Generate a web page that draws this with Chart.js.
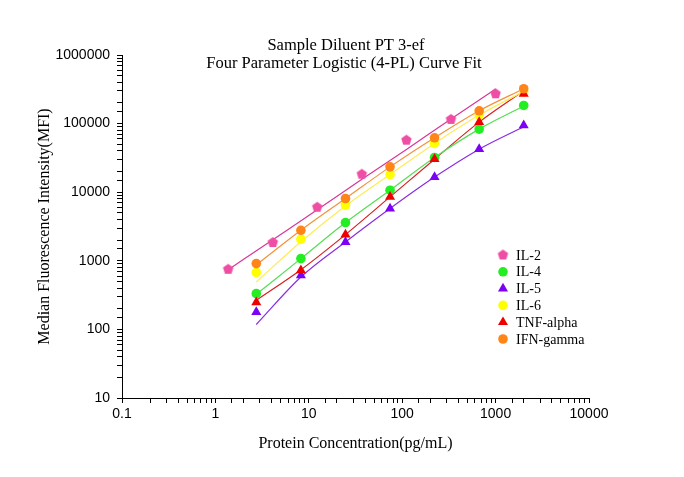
<!DOCTYPE html>
<html lang="en">
<head>
<meta charset="UTF-8">
<title>Sample Diluent PT 3-ef</title>
<script src="https://cdn.jsdelivr.net/npm/chart.js@4"></script>
<style>
  html, body { margin: 0; padding: 0; background: #fff; }
  #wrap { width: 684px; height: 477px; position: relative; }
</style>
</head>
<body>
<div id="wrap"><canvas id="chart"></canvas></div>
<script>
// standard concentrations (pg/mL), 3-fold dilutions
var concIL2 = [1.37, 4.12, 12.3, 37.0, 111, 333, 1000];
var concStd = [2.74, 8.23, 24.7, 74.1, 222, 667, 2000];

// measured MFI (markers)
var il2 = [752, 1845, 6040, 18300, 57400, 115000, 272000];
var il4 = [332, 1076, 3610, 10700, 32100, 83100, 184000];
var il5 = [179, 614, 1880, 5780, 16600, 42400, 94100];
var il6 = [679, 2060, 6460, 18100, 51400, 133000, 290000];
var tnf = [248, 727, 2410, 8540, 30300, 105000, 272000];
var ifn = [910, 2786, 8090, 23400, 62100, 153800, 322000];

// 4-PL fitted curves at the same concentrations
var il2Fit = [739, 2030, 5540, 15400, 42000, 117000, 319000];
var il4Fit = [325, 1076, 3610, 10700, 32100, 83100, 180000];
var il5Fit = [118, 580, 1880, 5780, 16600, 42400, 90000];
var il6Fit = [491, 1900, 6300, 18100, 51400, 133000, 295000];
var tnfFit = [265, 740, 2410, 8540, 30300, 105000, 300000];
var ifnFit = [870, 2786, 8090, 23400, 62100, 153800, 322000];

var xTicks = [0.1, 1, 10, 100, 1000, 10000];
var yTicks = [10, 100, 1000, 10000, 100000, 1000000];

var names = ['IL-2', 'IL-4', 'IL-5', 'IL-6', 'TNF-alpha', 'IFN-gamma'];
var markColors = ['#EE4FA5', '#22EE22', '#7B00F5', '#FFFF00', '#EE0000', '#FF8519'];
var lineColors = ['#D6369A', '#55DD55', '#8A2BE2', '#FFEB55', '#D81E1E', '#F5903A'];

function makePentagon(color, r) {
  var c = document.createElement('canvas');
  var s = Math.ceil(r * 2) + 2;
  c.width = s; c.height = s;
  var g = c.getContext('2d');
  g.fillStyle = color;
  g.beginPath();
  for (var i = 0; i < 5; i++) {
    var a = -Math.PI / 2 + i * 2 * Math.PI / 5;
    var px = s / 2 + r * Math.cos(a), py = s / 2 + r * Math.sin(a);
    if (i) g.lineTo(px, py); else g.moveTo(px, py);
  }
  g.closePath();
  g.fill();
  return c;
}

var pentagon = makePentagon(markColors[0], 5.5);
var styles = [pentagon, 'circle', 'triangle', 'circle', 'triangle', 'circle'];
var radii = [5.5, 4.8, 5.8, 4.8, 5.8, 4.8];

var pts = [il2, il4, il5, il6, tnf, ifn];
var fits = [il2Fit, il4Fit, il5Fit, il6Fit, tnfFit, ifnFit];
var concs = [concIL2, concStd, concStd, concStd, concStd, concStd];
var markOrder = [5, 4, 3, 2, 1, 0];

function xy(xs, ys) {
  return xs.map(function (x, i) { return { x: x, y: ys[i] }; });
}

var datasets = [];
for (var i = 0; i < names.length; i++) {
  datasets.push({
    label: names[i],
    data: xy(concs[i], pts[i]),
    showLine: false,
    pointStyle: styles[i],
    pointRadius: radii[i],
    pointHoverRadius: radii[i],
    pointBackgroundColor: markColors[i],
    pointBorderWidth: 0,
    order: markOrder[i]
  });
}
for (var j = 0; j < names.length; j++) {
  datasets.push({
    label: names[j] + ' fit',
    data: xy(concs[j], fits[j]),
    showLine: true,
    pointRadius: 0,
    borderColor: lineColors[j],
    borderWidth: 1.2,
    cubicInterpolationMode: 'monotone',
    order: 10 + j
  });
}

function isDecade(v, list) {
  return list.some(function (t) { return Math.abs(t - v) / t < 1e-6; });
}

// legend marker, same shapes as the dataset points
function legendMark(ctx, k, x, y) {
  var st = styles[k], r = radii[k];
  if (typeof st !== 'string') {
    ctx.drawImage(st, x - st.width / 2, y - st.height / 2);
    return;
  }
  ctx.fillStyle = markColors[k];
  ctx.beginPath();
  if (st === 'circle') {
    ctx.arc(x, y, r, 0, Math.PI * 2);
  } else {
    for (var n = 0; n < 3; n++) {
      var a = n * 2 * Math.PI / 3;
      var px = x + Math.sin(a) * r, py = y - Math.cos(a) * r;
      if (n) ctx.lineTo(px, py); else ctx.moveTo(px, py);
    }
    ctx.closePath();
  }
  ctx.fill();
}

// title lines and legend sit inside the empty plot space
var decorations = {
  id: 'decorations',
  afterDraw: function (chart) {
    var ctx = chart.ctx;
    ctx.save();
    ctx.fillStyle = '#000';
    ctx.textAlign = 'center';
    ctx.textBaseline = 'alphabetic';
    ctx.font = '16.5px "Liberation Serif"';
    ctx.fillText('Sample Diluent PT 3-ef', 346, 50);
    ctx.fillText('Four Parameter Logistic (4-PL) Curve Fit', 344, 68);

    ctx.font = '14px "Liberation Serif"';
    ctx.textAlign = 'left';
    ctx.textBaseline = 'middle';
    for (var k = 0; k < names.length; k++) {
      var ly = 255 + k * 16.8;
      legendMark(ctx, k, 503, ly);
      ctx.fillStyle = '#000';
      ctx.fillText(names[k], 516, ly + 1);
    }
    ctx.restore();
  }
};

var axisFont = { family: '"Liberation Sans", Arial, sans-serif', size: 14 };
var titleFont = { family: '"Liberation Serif", "Times New Roman", serif', size: 16 };

new Chart(document.getElementById('chart'), {
  type: 'scatter',
  data: { datasets: datasets },
  plugins: [decorations],
  options: {
    responsive: true,
    maintainAspectRatio: false,
    animation: false,
    layout: { padding: { top: 55, right: 95, left: 0, bottom: 0 } },
    plugins: {
      legend: { display: false },
      title: { display: false },
      tooltip: { enabled: false }
    },
    scales: {
      x: {
        type: 'logarithmic',
        min: 0.1,
        max: 10000,
        afterFit: function (s) { s.height = 79; },
        grid: { display: true, drawOnChartArea: false, drawTicks: true, tickLength: 5, tickColor: '#000' },
        border: { display: true, color: '#000', width: 1 },
        ticks: {
          color: '#000',
          font: axisFont,
          autoSkip: false,
          maxRotation: 0,
          minRotation: 0,
          padding: 3,
          callback: function (v) { return isDecade(v, xTicks) ? String(v) : ''; }
        },
        title: {
          display: true,
          text: 'Protein Concentration(pg/mL)',
          color: '#000',
          font: titleFont,
          padding: { top: 0, bottom: 24 }
        }
      },
      y: {
        type: 'logarithmic',
        min: 10,
        max: 1000000,
        afterFit: function (s) { s.width = 122; },
        grid: { display: true, drawOnChartArea: false, drawTicks: true, tickLength: 5, tickColor: '#000' },
        border: { display: true, color: '#000', width: 1 },
        ticks: {
          color: '#000',
          font: axisFont,
          autoSkip: false,
          padding: 7,
          callback: function (v) { return isDecade(v, yTicks) ? String(v) : ''; }
        },
        title: {
          display: true,
          text: 'Median Fluorescence Intensity(MFI)',
          color: '#000',
          font: titleFont,
          padding: { top: 35, bottom: 0 }
        }
      }
    }
  }
});
</script>
</body>
</html>
